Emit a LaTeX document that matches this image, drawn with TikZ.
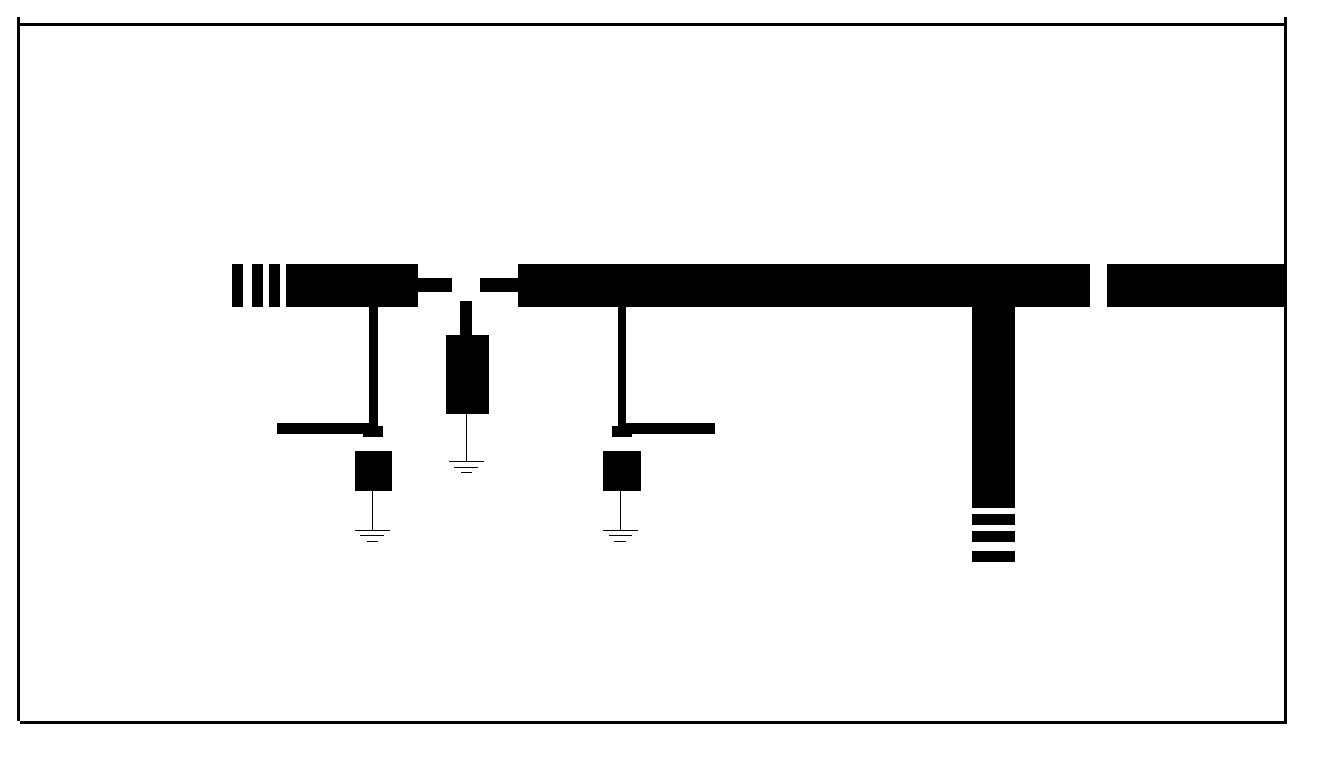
\documentclass[tikz,border=0pt]{standalone}
\tikzset{
  blk/.style={fill=black,draw=none,inner sep=0pt,outer sep=0pt,anchor=north west},
  wire/.style={draw=black,line width=1pt,line cap=butt},
}
% name, left, top, right, bottom (in reference pixels)
\newcommand{\blkbox}[5]{%
  \pgfmathsetmacro{\blkw}{#4-#2}\pgfmathsetmacro{\blkh}{#5-#3}%
  \node[blk,minimum width=\blkw pt,minimum height=\blkh pt] (#1) at (#2,#3) {};}
\begin{document}
\begin{tikzpicture}[x=1pt,y=-1pt]
\useasboundingbox (0,0) rectangle (1319,758);
% frame
\blkbox{frameL}{17}{17}{20}{721}
\blkbox{frameT}{20}{23}{1284}{26}
\blkbox{frameR}{1284}{17}{1287}{724}
\blkbox{frameB}{20}{721}{1287}{724}
% main bus, left part
\blkbox{s1}{232}{264}{243}{307}
\blkbox{s2}{252}{264}{263}{307}
\blkbox{s3}{269}{264}{280}{307}
\blkbox{busA}{286}{264}{418}{307}
\blkbox{stubL}{418}{278}{452}{292}
\blkbox{stubR}{480}{278}{518}{292}
\blkbox{busB}{518}{264}{1090}{307}
\blkbox{busC}{1107}{264}{1285}{307}
% left branch
\blkbox{vL}{369}{307}{378}{430}
\blkbox{hL}{277}{423}{372}{434}
\blkbox{capL}{363}{426}{383}{437}
\blkbox{boxL}{355}{451}{392}{491}
\blkbox{gL1}{355}{530}{390}{531}
\blkbox{gL2}{360}{535}{384}{536}
\blkbox{gL3}{367}{541}{378}{542}
\draw[wire] (gL1.north |- boxL.south) -- (gL1.north);
% centre branch
\blkbox{vC}{460}{301}{472}{335}
\blkbox{boxC}{446}{335}{489}{414}
\blkbox{gC1}{449}{461}{484}{462}
\blkbox{gC2}{454}{467}{478}{468}
\blkbox{gC3}{461}{472}{472}{473}
\draw[wire] (gC1.north |- boxC.south) -- (gC1.north);
% right branch
\blkbox{vR}{618}{307}{626}{430}
\blkbox{hR}{622}{423}{715}{434}
\blkbox{capR}{612}{426}{632}{437}
\blkbox{boxR}{603}{451}{641}{491}
\blkbox{gR1}{603}{530}{638}{531}
\blkbox{gR2}{609}{535}{632}{536}
\blkbox{gR3}{614}{541}{626}{542}
\draw[wire] (gR1.north |- boxR.south) -- (gR1.north);
% T branch
\blkbox{tee}{972}{307}{1015}{508}
\blkbox{t1}{972}{514}{1015}{525}
\blkbox{t2}{972}{531}{1015}{542}
\blkbox{t3}{972}{551}{1015}{562}
\end{tikzpicture}
\end{document}
